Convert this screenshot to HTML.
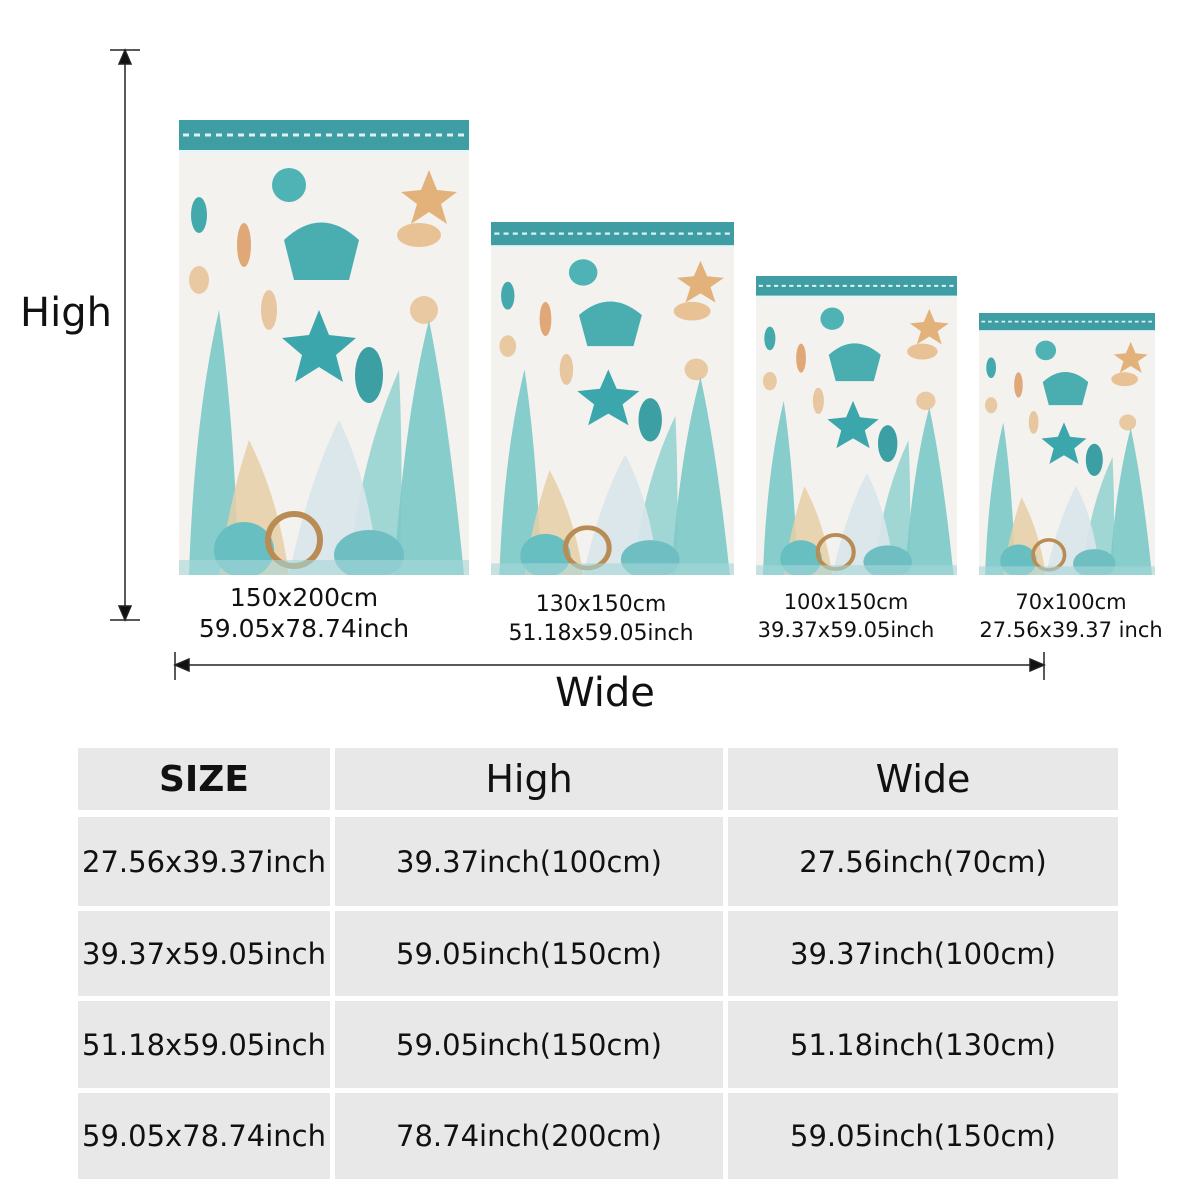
<!DOCTYPE html>
<html><head><meta charset="utf-8"><style>
body{margin:0;width:1200px;height:1200px;background:#fff;position:relative;overflow:hidden;font-family:"DejaVu Sans","Liberation Sans",sans-serif;color:#111}
.a{position:absolute}
.t{position:absolute;text-align:center;white-space:nowrap}
.c{position:absolute;background:#e8e8e8;display:flex;align-items:center;justify-content:center;font-size:29px}
</style></head><body>
<svg class="a" style="left:0;top:0" width="1200" height="720">
<defs>
<symbol id="b" viewBox="0 0 290 455" preserveAspectRatio="none">
<rect width="290" height="455" fill="#f3f2ee"/>
<rect width="290" height="30" fill="#3f9ea3"/>
<line x1="4" y1="15" x2="286" y2="15" stroke="#dff1f1" stroke-width="3" stroke-dasharray="6 5"/>
<rect y="30" width="290" height="4" fill="#e9f4f4"/>
<circle cx="110" cy="65" r="17" fill="#4fb3b6"/>
<path d="M115 160 L170 160 L180 120 Q142 85 105 120 Z" fill="#4aaeb1"/>
<path d="M250 50 l8 20 20 2-16 12 6 20-18-12-18 12 6-20-16-12 20-2z" fill="#e3b27b"/>
<ellipse cx="240" cy="115" rx="22" ry="12" fill="#e8c195"/>
<ellipse cx="20" cy="95" rx="8" ry="18" fill="#44a9ad"/>
<ellipse cx="65" cy="125" rx="7" ry="22" fill="#e0a777"/>
<ellipse cx="20" cy="160" rx="10" ry="14" fill="#e9c9a1"/>
<ellipse cx="90" cy="190" rx="8" ry="20" fill="#e8c7a0"/>
<path d="M140 190 l10 25 27 3-20 17 7 27-24-15-24 15 7-27-20-17 27-3z" fill="#3ba6ab"/>
<ellipse cx="190" cy="255" rx="14" ry="28" fill="#3b9fa4"/>
<circle cx="245" cy="190" r="14" fill="#e9c9a1"/>
<path d="M10 455 Q15 300 40 190 Q55 300 60 455Z" fill="#6cc3c3" opacity=".8"/>
<path d="M215 455 Q225 300 250 200 Q270 300 285 455Z" fill="#6cc3c3" opacity=".8"/>
<path d="M170 455 Q180 340 220 250 Q225 360 220 455Z" fill="#7ccac8" opacity=".7"/>
<path d="M40 455 Q50 380 70 320 Q100 380 110 455Z" fill="#e6cfa7" opacity=".85"/>
<path d="M110 455 Q130 360 160 300 Q190 360 200 455Z" fill="#d9e6ea" opacity=".9"/>
<ellipse cx="65" cy="430" rx="30" ry="28" fill="#68bfc2"/>
<circle cx="115" cy="420" r="26" fill="none" stroke="#b98c55" stroke-width="6"/>
<ellipse cx="190" cy="435" rx="35" ry="25" fill="#6fbfc2"/>
<rect y="440" width="290" height="15" fill="#a7d7d8" opacity=".6"/>
</symbol>
</defs>
<g stroke="#222" stroke-width="1.5" fill="#111">
<line x1="125" y1="52" x2="125" y2="618"/>
<line x1="110" y1="50" x2="140" y2="50"/><line x1="110" y1="620" x2="140" y2="620"/>
<path d="M125 50 l-6 14 h12z"/><path d="M125 620 l-6 -14 h12z"/>
<line x1="177" y1="665" x2="1042" y2="665"/>
<line x1="175" y1="652" x2="175" y2="680"/><line x1="1044" y1="652" x2="1044" y2="680"/>
<path d="M175 665 l14 -6 v12z"/><path d="M1044 665 l-14 -6 v12z"/>
</g>
<use href="#b" x="179" y="120" width="290" height="455"/>
<use href="#b" x="491" y="222" width="243" height="353"/>
<use href="#b" x="756" y="276" width="201" height="299"/>
<use href="#b" x="979" y="313" width="176" height="262"/>
</svg>
<div class="t" style="left:20px;top:290px;font-size:40px">High</div>
<div class="t" style="left:505px;top:670px;width:200px;font-size:40px">Wide</div>
<div class="t" style="left:174px;top:582px;width:260px;font-size:25px;line-height:31px">150x200cm<br>59.05x78.74inch</div>
<div class="t" style="left:481px;top:590px;width:240px;font-size:22px;line-height:29px">130x150cm<br>51.18x59.05inch</div>
<div class="t" style="left:726px;top:588px;width:240px;font-size:21px;line-height:28px">100x150cm<br>39.37x59.05inch</div>
<div class="t" style="left:956px;top:588px;width:230px;font-size:21px;line-height:28px">70x100cm<br>27.56x39.37 inch</div>

<div class="c" style="left:78px;top:748px;width:252px;height:62px;font-weight:bold;font-size:36px">SIZE</div>
<div class="c" style="left:335px;top:748px;width:388px;height:62px;font-size:38px">High</div>
<div class="c" style="left:728px;top:748px;width:390px;height:62px;font-size:38px">Wide</div>

<div class="c" style="left:78px;top:817px;width:252px;height:89px">27.56x39.37inch</div>
<div class="c" style="left:335px;top:817px;width:388px;height:89px">39.37inch(100cm)</div>
<div class="c" style="left:728px;top:817px;width:390px;height:89px">27.56inch(70cm)</div>

<div class="c" style="left:78px;top:911px;width:252px;height:85px">39.37x59.05inch</div>
<div class="c" style="left:335px;top:911px;width:388px;height:85px">59.05inch(150cm)</div>
<div class="c" style="left:728px;top:911px;width:390px;height:85px">39.37inch(100cm)</div>

<div class="c" style="left:78px;top:1001px;width:252px;height:87px">51.18x59.05inch</div>
<div class="c" style="left:335px;top:1001px;width:388px;height:87px">59.05inch(150cm)</div>
<div class="c" style="left:728px;top:1001px;width:390px;height:87px">51.18inch(130cm)</div>

<div class="c" style="left:78px;top:1093px;width:252px;height:86px">59.05x78.74inch</div>
<div class="c" style="left:335px;top:1093px;width:388px;height:86px">78.74inch(200cm)</div>
<div class="c" style="left:728px;top:1093px;width:390px;height:86px">59.05inch(150cm)</div>
</body></html>
